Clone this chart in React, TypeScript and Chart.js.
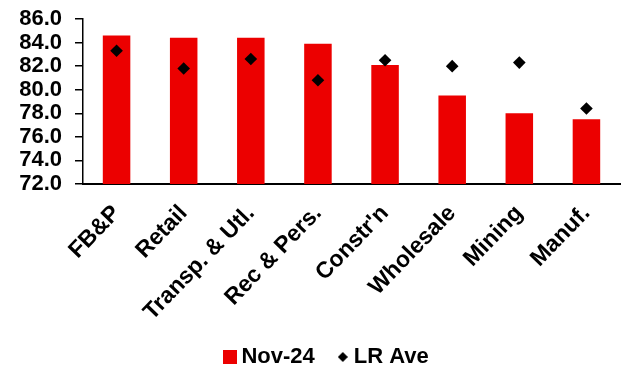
import React, { useEffect, useRef } from "react";
import { Chart, registerables } from "chart.js";

Chart.register(...registerables);

const categories = ["FB&P", "Retail", "Transp. & Utl.", "Rec & Pers.", "Constr'n", "Wholesale", "Mining", "Manuf."];
const nov24 = [84.6, 84.4, 84.4, 83.9, 82.1, 79.5, 78.0, 77.5];
const lrAve = [83.3, 81.8, 82.6, 80.8, 82.5, 82.0, 82.3, 78.4];
const yTicks = { min: 72, max: 86, step: 2 };

const RED = "#EC0000";
const FONT = "'Liberation Sans', Arial, sans-serif";

function makeSquare(size: number, color: string) {
  const c = document.createElement("canvas");
  c.width = size;
  c.height = size;
  const ctx = c.getContext("2d")!;
  ctx.fillStyle = color;
  ctx.fillRect(0, 0, size, size);
  return c;
}

function makeDiamond(size: number, color: string) {
  const c = document.createElement("canvas");
  c.width = size;
  c.height = size;
  const ctx = c.getContext("2d")!;
  ctx.fillStyle = color;
  ctx.beginPath();
  ctx.moveTo(size / 2, 0);
  ctx.lineTo(size, size / 2);
  ctx.lineTo(size / 2, size);
  ctx.lineTo(0, size / 2);
  ctx.closePath();
  ctx.fill();
  return c;
}

function makeBlank() {
  const c = document.createElement("canvas");
  c.width = 1;
  c.height = 1;
  return c;
}

export default function App() {
  const ref = useRef<HTMLCanvasElement | null>(null);

  useEffect(() => {
    if (!ref.current) return;
    const sq = makeSquare(14, RED);
    const dm = makeDiamond(10, "#000");
    const blank = makeBlank();
    const chart = new Chart(ref.current, {
      type: "bar",
      data: {
        labels: categories,
        datasets: [
          {
            type: "bar",
            label: "Nov-24",
            data: nov24,
            backgroundColor: RED,
            barPercentage: 0.41,
            categoryPercentage: 1,
            order: 2,
          } as any,
          {
            type: "line",
            label: "LR Ave",
            data: lrAve,
            showLine: false,
            pointStyle: "rectRot",
            pointRadius: 6.3,
            pointBackgroundColor: "#000",
            pointBorderColor: "#000",
            pointBorderWidth: 0,
            order: 1,
          } as any,
        ],
      },
      options: {
        animation: false,
        responsive: false,
        maintainAspectRatio: false,
        layout: { padding: { left: 0, right: 7, top: 19, bottom: 0 } },
        plugins: {
          tooltip: { enabled: false },
          legend: {
            position: "bottom",
            maxHeight: 51,
            labels: {
              color: "#000",
              font: { family: FONT, size: 22, weight: "bold" },
              padding: 28,
              boxWidth: 0.1,
              usePointStyle: true,
              generateLabels: () => [
                { text: "", pointStyle: blank as any, fillStyle: "rgba(0,0,0,0)", strokeStyle: "rgba(0,0,0,0)", lineWidth: 0, hidden: false, fontColor: "rgba(0,0,0,0)" } as any,
                { text: "Nov-24", pointStyle: sq as any, fillStyle: RED, strokeStyle: RED, lineWidth: 0, datasetIndex: 0, hidden: false, fontColor: "#000" } as any,
                { text: "LR Ave", pointStyle: dm as any, fillStyle: "#000", strokeStyle: "#000", lineWidth: 0, datasetIndex: 1, hidden: false, fontColor: "#000" } as any,
              ],
            },
          } as any,
        },
        scales: {
          x: {
            grid: { display: false, drawTicks: false },
            border: { color: "#000", width: 2 },
            ticks: {
              color: "#000",
              font: { family: FONT, size: 23, weight: "bold" },
              maxRotation: 46,
              minRotation: 46,
              autoSkip: false,
              padding: 16,
            },
            afterFit: (s: any) => {
              s.height = 134;
            },
          },
          y: {
            min: yTicks.min,
            max: yTicks.max,
            grid: {
              drawOnChartArea: false,
              drawTicks: true,
              tickLength: 8,
              tickWidth: 1.5,
              tickColor: "#000",
              color: "#000",
              lineWidth: 1.5,
            },
            border: { color: "#000", width: 1.5 },
            ticks: {
              stepSize: yTicks.step,
              autoSkip: false,
              color: "#000",
              font: { family: FONT, size: 22, weight: "bold" },
              padding: 13,
              callback: (v: any) => Number(v).toFixed(1),
            },
            afterFit: (s: any) => {
              s.width = 83;
              s.paddingTop = 0;
              s.paddingBottom = 0;
            },
          },
        },
      },
    });
    return () => chart.destroy();
  }, []);

  return (
    <div style={{ position: "absolute", left: 0, top: 0, width: 627, height: 369, background: "#fff" }}>
      <canvas ref={ref} width={627} height={369} style={{ width: 627, height: 369 }} />
    </div>
  );
}
